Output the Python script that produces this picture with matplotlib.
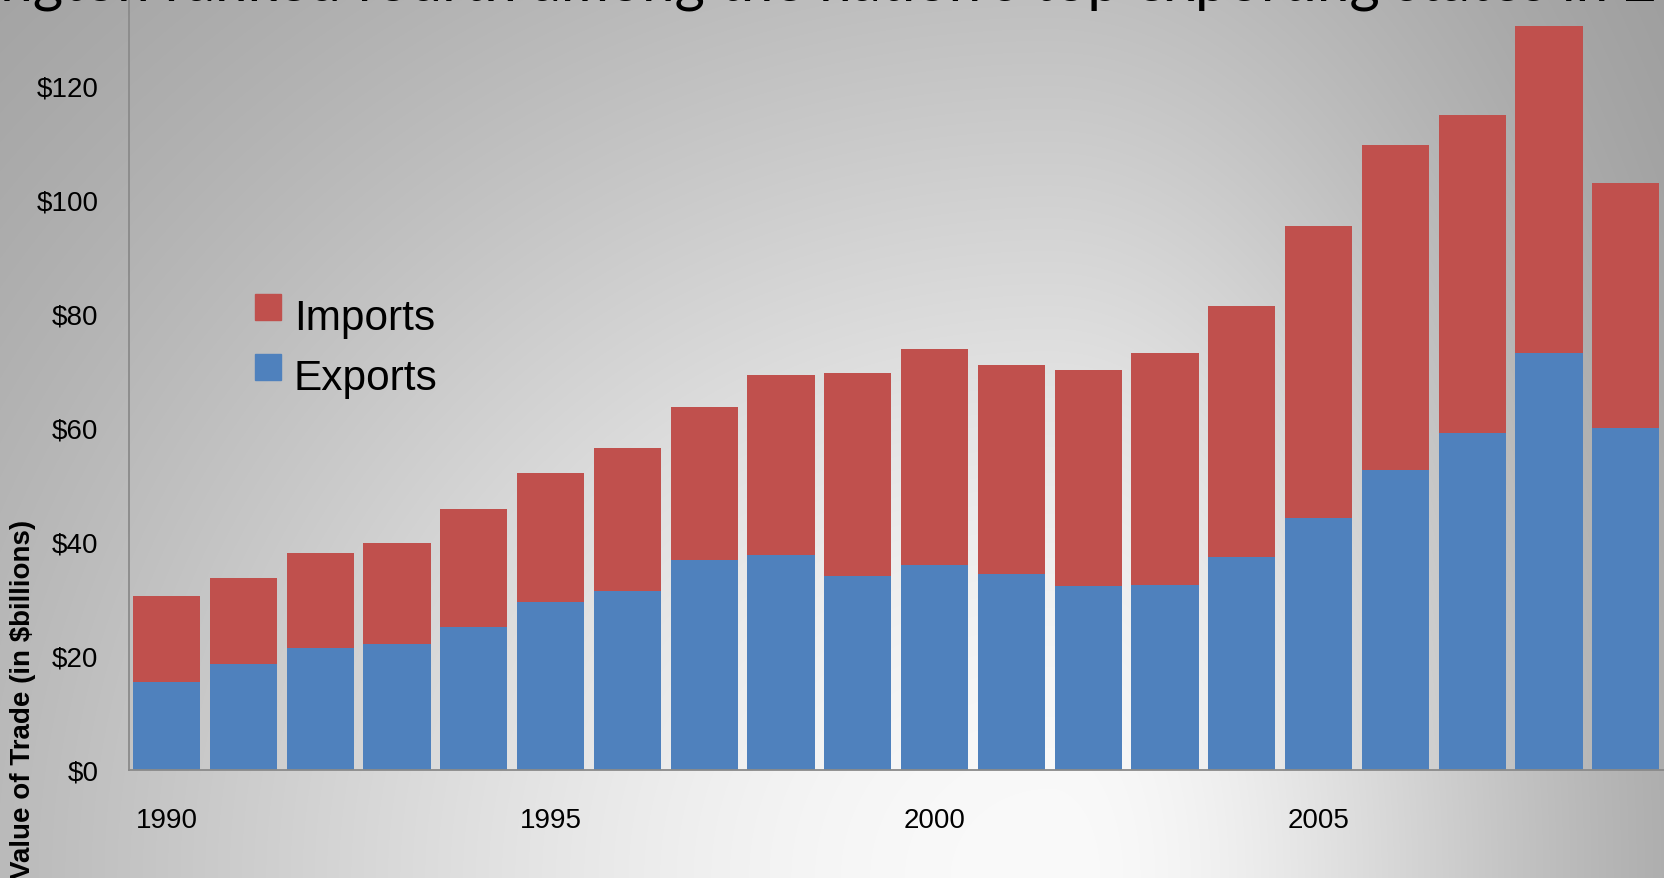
import numpy as np
import matplotlib
matplotlib.use("Agg")
import matplotlib.pyplot as plt
from matplotlib.patches import Patch
from matplotlib.legend_handler import HandlerPatch

# ---- data ----
years = [1990, 1991, 1992, 1993, 1994, 1995, 1996, 1997, 1998, 1999,
         2000, 2001, 2002, 2003, 2004, 2005, 2006, 2007, 2008, 2009]
exports = [15.4, 18.6, 21.4, 22.0, 25.1, 29.4, 31.4, 36.8, 37.6, 34.0,
           35.9, 34.4, 32.2, 32.4, 37.4, 44.1, 52.5, 59.0, 73.1, 59.9]
totals = [30.5, 33.7, 38.1, 39.8, 45.8, 52.1, 56.4, 63.6, 69.2, 69.6,
          73.7, 70.9, 70.1, 73.1, 81.3, 95.3, 109.6, 114.8, 130.4, 102.9]
imports = [round(t - e, 1) for t, e in zip(totals, exports)]
ytick_vals = [0, 20, 40, 60, 80, 100, 120]
ytick_labels = ["$0", "$20", "$40", "$60", "$80", "$100", "$120"]
xtick_years = [1990, 1995, 2000, 2005]
title_text = "Washington ranked fourth among the nation's top exporting states in 2"
ylabel_text = "Value of Trade (in $billions)"

W, H = 1665, 879
fig = plt.figure(figsize=(W / 100, H / 100), dpi=100)

# ---- background gradient ----
bg = fig.add_axes([0, 0, 1, 1], zorder=-10)
xx, yy = np.meshgrid(np.arange(W), np.arange(H))
cx, cy = 1050.0, 879.0
rx = np.where(xx < cx, 1300.0, 650.0)
ry = 1167.0
d2 = ((xx - cx) / rx) ** 2 + ((yy - cy) / ry) ** 2
val = 0.58 + 0.40 * np.exp(-1.5 * d2)
img = np.dstack([val, val, val])
bg.imshow(img, extent=(0, W, H, 0), aspect="auto", interpolation="bilinear")
bg.set_xlim(0, W)
bg.set_ylim(H, 0)
bg.axis("off")

# ---- main axes ----
left_px, zero_px = 129.5, 771.0
ax = fig.add_axes([left_px / W, 1 - zero_px / H, (W - left_px) / W, zero_px / H])
ax.set_facecolor("none")

x = np.arange(len(years))
bw = 0.875
ax.bar(x, exports, bw, color="#4F81BD", label="Exports", zorder=2)
ax.bar(x, imports, bw, bottom=exports, color="#C0504D", label="Imports", zorder=2)

ax.set_xlim(-0.484, 19.51)
ax.set_ylim(0, 135.1)

ax.set_yticks(ytick_vals)
ax.set_yticklabels(ytick_labels, fontsize=20, family="Liberation Sans")
ax.set_xticks([years.index(yv) for yv in xtick_years])
ax.set_xticklabels([str(yv) for yv in xtick_years], fontsize=20, family="Liberation Sans")
ax.tick_params(axis="y", length=0, pad=22.5)
ax.tick_params(axis="x", length=0, pad=27)

for s in ["top", "right"]:
    ax.spines[s].set_visible(False)
for s in ["left", "bottom"]:
    ax.spines[s].set_color("#8a8a8a")
    ax.spines[s].set_linewidth(1.3)
ax.spines["left"].set_zorder(3)

# legend (square handles raised a little above the text baseline)
handles = [Patch(color="#C0504D", label="Imports"), Patch(color="#4F81BD", label="Exports")]
hp = HandlerPatch(ypad=0.358)
fig.legend(handles=handles, loc="upper left",
           bbox_to_anchor=(255 / W, 1 - 295 / H), bbox_transform=fig.transFigure,
           frameon=False, prop={"family": "Liberation Sans", "size": 30.5},
           handlelength=0.62, handleheight=1.117, handletextpad=0.3,
           labelspacing=0.37, borderpad=0, borderaxespad=0,
           handler_map={Patch: hp})

# y label (cut off at bottom, like the reference)
fig.text(23 / W, 1 - 520 / H, ylabel_text, rotation=90, ha="center", va="top",
         fontsize=20, fontweight="bold", family="Liberation Sans")

# title, mostly outside the canvas
fig.text(1657 / W, 1 - 0.3 / H, title_text, ha="right", va="baseline",
         fontsize=42, family="Lato", color="black")

fig.savefig("out.png", dpi=100)
